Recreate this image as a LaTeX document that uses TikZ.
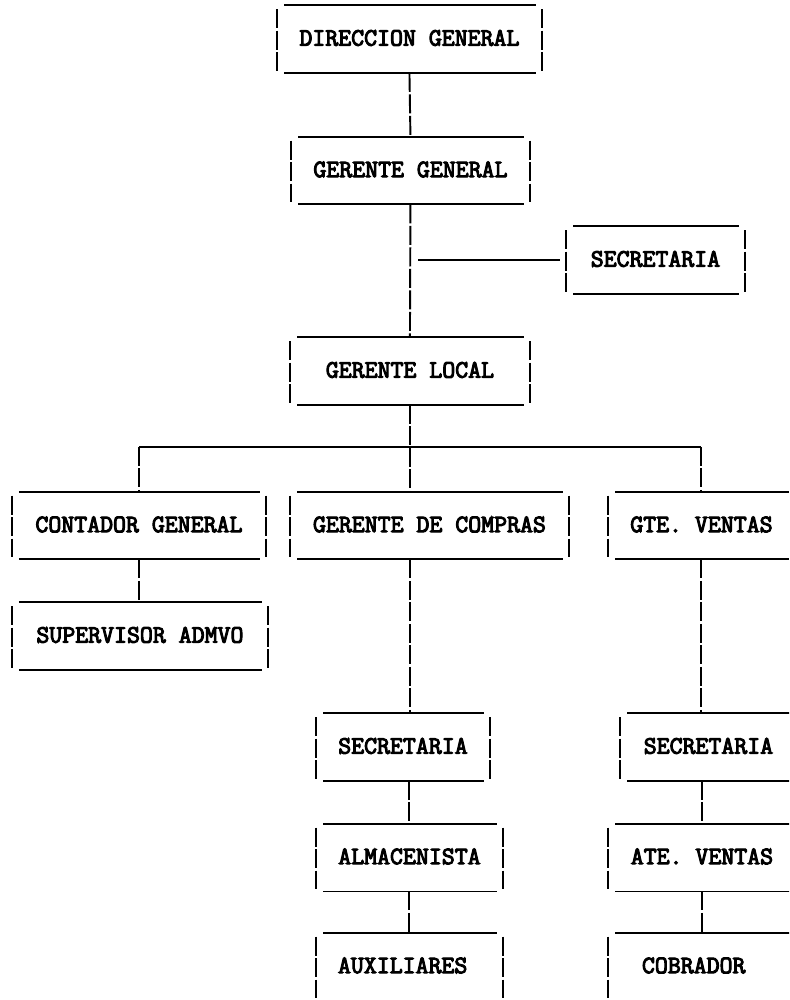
\documentclass[tikz,border=0pt]{standalone}
\usepackage{fontspec}
\newfontfamily\maquina[FakeBold=4]{Latin Modern Mono}

\tikzset{
    puesto/.style={anchor=west, minimum height=1.32cm, inner xsep=0pt,
        text height=7.6pt, text depth=0pt,
        font=\maquina\fontsize{14.3}{16}\selectfont},
    barra/.style={dash pattern=on 0.38cm off 0.05cm},
}

\begin{document}
\begin{tikzpicture}[x=0.02cm,y=-0.02cm,line width=1.1pt]
    \useasboundingbox (0,0) rectangle (789,1000);
    \clip (0,0) rectangle (789,1000);

    \node[puesto, minimum width=5.26cm] (dg) at (277,39) {DIRECCION GENERAL};
    \node[puesto, minimum width=4.74cm] (gg) at (291,170.5) {GERENTE GENERAL};
    \node[puesto, minimum width=3.54cm] (sec) at (566,260) {SECRETARIA};
    \node[puesto, minimum width=4.76cm] (gl) at (290,371) {GERENTE LOCAL};

    \node[puesto, minimum width=5.04cm] (cg) at (12,525.5) {CONTADOR GENERAL};
    \node[puesto, minimum width=5.54cm] (gc) at (290,525.5) {GERENTE DE COMPRAS};
    \node[puesto, minimum width=3.7cm] (gv) at (608,525.5) {GTE. VENTAS};
    \node[puesto, minimum width=5.08cm] (sup) at (12,636) {SUPERVISOR ADMVO};

    \node[puesto, minimum width=3.44cm] (secc) at (316,747) {SECRETARIA};
    \node[puesto, minimum width=3.7cm] (alm) at (316,857.5) {ALMACENISTA};
    \node[puesto, minimum width=3.7cm, inner xsep=0.42cm, text width=2.86cm,
        align=left] (aux) at (316,966.5) {AUXILIARES};

    \node[puesto, minimum width=3.5cm] (secv) at (620,747) {SECRETARIA};
    \node[puesto, minimum width=3.72cm] (ate) at (608,857.5) {ATE. VENTAS};
    \node[puesto, minimum width=3.84cm, inner xsep=0.66cm, text width=2.52cm,
        align=left] (cob) at (608,966.5) {COBRADOR};

    \foreach \n in {dg,gg,sec,gl,cg,gc,gv,sup,secc,alm,aux,secv,ate,cob} {
        \draw ([xshift=0.14cm]\n.north west) -- ([xshift=-0.12cm]\n.north east);
        \draw ([xshift=0.14cm]\n.south west) -- ([xshift=-0.12cm]\n.south east);
        \draw[barra] ([yshift=-0.08cm]\n.north west) -- ([yshift=0.04cm]\n.south west);
        \draw[barra] ([yshift=-0.08cm]\n.north east) -- ([yshift=0.04cm]\n.south east);
    }

    \draw[barra] (dg.south) -- (gg.north);
    \draw[barra] (gg.south) -- (gl.north);
    \draw ([xshift=0.16cm]gg.south |- sec.west) -- ([xshift=-0.12cm]sec.west);

    \coordinate (bus) at (409,447);
    \draw[barra] (gl.south) -- (gl.south |- gc.north);
    \draw (cg.north |- bus) -- (gv.north |- bus);
    \draw[barra] (cg.north |- bus) -- (cg.north);
    \draw[barra] (gv.north |- bus) -- (gv.north);

    \draw[barra] (cg.south) -- (cg.south |- sup.north);

    \draw[barra] (gl.south |- gc.south) -- (gl.south |- secc.north);
    \draw[barra] (alm.north |- secc.south) -- (alm.north);
    \draw[barra] (alm.south) -- (alm.south |- aux.north);

    \draw[barra] (gv.south) -- (gv.south |- secv.north);
    \draw[barra] (ate.north |- secv.south) -- (ate.north);
    \draw[barra] (ate.south) -- (ate.south |- cob.north);
\end{tikzpicture}
\end{document}
